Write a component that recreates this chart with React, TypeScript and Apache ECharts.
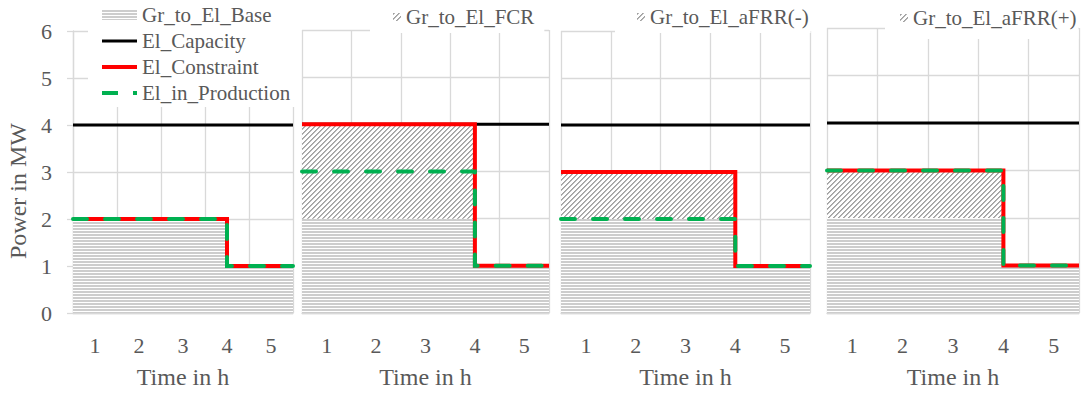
import React, { useEffect, useRef } from 'react';
import * as echarts from 'echarts';

// ---- data ----
const hours = ['1', '2', '3', '4', '5'];
// segment boundaries on the hour axis (start of period, switching time, end of period)
const stepTimes = [0.5, 4, 5.5];
const elCapacity = [4, 4, 4];
const grToElBase = [2, 1, 1];

const reserveNames = ['', 'Gr_to_El_FCR', 'Gr_to_El_aFRR(-)', 'Gr_to_El_aFRR(+)'];
const reserveP1 = [0, 0, 0];
const reserveFCR = [2, 0, 0];
const reserveAFRRminus = [1, 0, 0];
const reserveAFRRplus = [1, 0, 0];

const constraintP1 = [2, 1, 1];
const constraintP2 = [4, 1, 1];
const constraintP3 = [3, 1, 1];
const constraintP4 = [3, 1, 1];

const productionP1 = [2, 1, 1];
const productionP2 = [3, 1, 1];
const productionP3 = [2, 1, 1];
const productionP4 = [3, 1, 1];

const panelReserve = [reserveP1, reserveFCR, reserveAFRRminus, reserveAFRRplus];
const panelConstraint = [constraintP1, constraintP2, constraintP3, constraintP4];
const panelProduction = [productionP1, productionP2, productionP3, productionP4];

// ---- layout / style ----
const FONT = 'Liberation Serif';
const TXT = '#595959';
const GRIDC = '#d9d9d9';
const grids = [
  { left: 73, top: 31, width: 220, height: 288 },
  { left: 302, top: 30, width: 247, height: 290 },
  { left: 561, top: 31, width: 249, height: 288 },
  { left: 827, top: 28, width: 252, height: 293 },
];

function makeStripe(): HTMLCanvasElement {
  const c = document.createElement('canvas');
  c.width = 3;
  c.height = 3;
  const ctx = c.getContext('2d')!;
  ctx.fillStyle = '#ffffff';
  ctx.fillRect(0, 0, 3, 3);
  ctx.fillStyle = '#cdcdcd';
  ctx.fillRect(0, 0, 3, 2);
  return c;
}

function makeDiag(): HTMLCanvasElement {
  const n = 5;
  const c = document.createElement('canvas');
  c.width = n;
  c.height = n;
  const ctx = c.getContext('2d')!;
  ctx.fillStyle = '#ffffff';
  ctx.fillRect(0, 0, n, n);
  for (let x = 0; x < n; x++) {
    for (let y = 0; y < n; y++) {
      const k = (x + y) % n;
      if (k === 0) {
        ctx.fillStyle = '#a0a0a0';
        ctx.fillRect(x, y, 1, 1);
      } else if (k === 1) {
        ctx.fillStyle = '#b8b8b8';
        ctx.fillRect(x, y, 1, 1);
      }
    }
  }
  return c;
}

const pts = (vals: number[]) => stepTimes.map((t, i) => [t, vals[i]]);

export default function App() {
  const ref = useRef<HTMLDivElement>(null);
  useEffect(() => {
    if (!ref.current) return;
    const chart = echarts.init(ref.current, undefined, { renderer: 'svg' });
    const stripe = { image: makeStripe(), repeat: 'repeat' };
    const diag = { image: makeDiag(), repeat: 'repeat' };

    const xAxis: any[] = [];
    const yAxis: any[] = [];
    const series: any[] = [];

    grids.forEach((g, i) => {
      xAxis.push({
        type: 'category',
        gridIndex: i,
        data: hours,
        boundaryGap: true,
        axisTick: { show: false },
        axisLine: { show: true, lineStyle: { color: GRIDC, width: 1.3 } },
        splitLine: { show: true, lineStyle: { color: GRIDC, width: 1.3 } },
        axisLabel: { fontSize: 22, color: TXT, fontFamily: FONT, margin: 21 },
        name: 'Time in h',
        nameLocation: 'middle',
        nameGap: 52,
        nameTextStyle: { fontSize: 24, color: TXT, fontFamily: FONT },
      });
      xAxis.push({ type: 'value', gridIndex: i, min: 0.5, max: 5.5, show: false });
      yAxis.push({
        type: 'value',
        gridIndex: i,
        min: 0,
        max: 6,
        interval: 1,
        axisLine: { show: i === 0, lineStyle: { color: GRIDC, width: 1.3 } },
        axisTick: { show: i === 0, length: 6, lineStyle: { color: GRIDC, width: 1.3 } },
        axisLabel: { show: i === 0, fontSize: 22, color: TXT, fontFamily: FONT, margin: 21 },
        splitLine: { show: true, lineStyle: { color: GRIDC, width: 1.3 } },
      });

      const xi = 2 * i + 1;
      const reserve = panelReserve[i];
      if (i > 0) {
        const bandTop = grToElBase.map((b, k) => b + reserve[k]);
        series.push({
          type: 'line',
          name: reserveNames[i],
          xAxisIndex: xi,
          yAxisIndex: i,
          data: pts(bandTop),
          step: 'end',
          symbol: 'none',
          lineStyle: { width: 0, opacity: 0 },
          areaStyle: { color: diag, opacity: 1 },
        });
      }
      series.push({
        type: 'line',
        name: 'Gr_to_El_Base',
        xAxisIndex: xi,
        yAxisIndex: i,
        data: pts(grToElBase),
        step: 'end',
        symbol: 'none',
        lineStyle: { width: 0, opacity: 0 },
        areaStyle: { color: stripe, opacity: 1 },
      });
      series.push({
        type: 'line',
        name: 'El_Capacity',
        xAxisIndex: xi,
        yAxisIndex: i,
        data: pts(elCapacity),
        step: 'end',
        symbol: 'none',
        color: '#000000',
        lineStyle: { color: '#000000', width: 3 },
      });
      series.push({
        type: 'line',
        name: 'El_Constraint',
        xAxisIndex: xi,
        yAxisIndex: i,
        data: pts(panelConstraint[i]),
        step: 'end',
        symbol: 'none',
        color: '#ff0000',
        lineStyle: { color: '#ff0000', width: 4, join: 'miter' },
      });
      series.push({
        type: 'line',
        name: 'El_in_Production',
        xAxisIndex: xi,
        yAxisIndex: i,
        data: pts(panelProduction[i]),
        step: 'end',
        symbol: 'none',
        color: '#00b050',
        lineStyle: { color: '#00b050', width: 4, type: [14, 18], cap: 'round', join: 'miter' },
      });
    });

    const legendText = { fontSize: 21, color: TXT, fontFamily: FONT, lineHeight: 22 };
    const legends: any[] = [
      {
        orient: 'vertical',
        left: 88,
        top: 0,
        padding: [4, 5, 3, 14],
        itemWidth: 35,
        itemHeight: 10,
        itemGap: 4,
        backgroundColor: '#ffffff',
        selectedMode: false,
        textStyle: legendText,
        data: [
          { name: 'Gr_to_El_Base', icon: 'rect', itemStyle: { color: stripe, borderWidth: 0 } },
          { name: 'El_Capacity', icon: 'path://M0,0h35v3h-35z', itemStyle: { color: '#000000', borderWidth: 0 } },
          { name: 'El_Constraint', icon: 'path://M0,0h35v4h-35z', itemStyle: { color: '#ff0000', borderWidth: 0 } },
          { name: 'El_in_Production', icon: 'path://M0,0h16v4h-16zM31,0h4v4h-4z', itemStyle: { color: '#00b050', borderWidth: 0 } },
        ],
      },
    ];
    const legendPos = [
      null,
      { left: 370, padding: [6, 10, 5, 23] },
      { left: 615, padding: [6, 2, 5, 22] },
      { left: 885, padding: [7, 2, 10, 15] },
    ];
    for (let i = 1; i < 4; i++) {
      const p = legendPos[i]!;
      legends.push({
        orient: 'horizontal',
        left: p.left,
        top: 0,
        padding: p.padding,
        itemWidth: 8,
        itemHeight: 8,
        backgroundColor: '#ffffff',
        selectedMode: false,
        textStyle: legendText,
        data: [{ name: reserveNames[i], icon: 'rect', itemStyle: { color: diag, borderWidth: 0 } }],
      });
    }

    chart.setOption({
      animation: false,
      backgroundColor: '#ffffff',
      grid: grids,
      xAxis,
      yAxis,
      legend: legends,
      series,
      graphic: [
        {
          type: 'text',
          x: 18,
          y: 191,
          rotation: Math.PI / 2,
          style: {
            text: 'Power in MW',
            fontSize: 24,
            fontFamily: FONT,
            fill: TXT,
            align: 'center',
            verticalAlign: 'middle',
          },
        },
      ],
    });
    return () => chart.dispose();
  }, []);
  return (
    <div
      ref={ref}
      style={{ position: 'fixed', left: 0, top: 0, width: 1089, height: 394, background: '#fff' }}
    />
  );
}
